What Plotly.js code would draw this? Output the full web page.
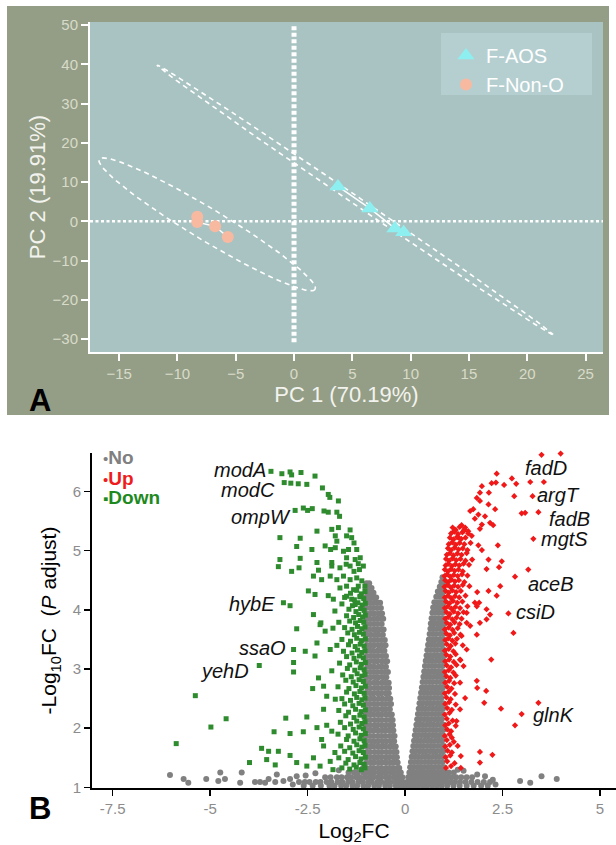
<!DOCTYPE html>
<html><head><meta charset="utf-8">
<script src="https://cdn.plot.ly/plotly-3.0.1.min.js"></script>
<style>html,body{margin:0;padding:0;background:#fff}#chart{width:616px;height:845px}</style>
</head><body><div id="chart"></div>
<script>
// ---------- Panel A (PCA) ----------
const aosX = [3.77, 6.5, 8.65, 9.4];
const aosY = [8.9, 3.3, -1.8, -2.8];
const nonX = [-8.3, -8.3, -6.77, -5.68];
const nonY = [1.2, -0.2, -1.28, -4.0];
// confidence ellipses: centre, half-major vector, half-minor vector (data units)
const ellipseCenter = [[5.23, 5.48], [-7.45, -0.77]];
const ellipseMajor = [[16.97, -34.3], [9.26, -16.58]];
const ellipseMinor = [[-0.197, -0.865], [-0.708, -3.50]];
const pcaTicksX = [-15, -10, -5, 0, 5, 10, 15, 20, 25];
const pcaTicksY = [-30, -20, -10, 0, 10, 20, 30, 40, 50];

// ---------- Panel B (volcano) ----------
const volTicksX = [-7.5, -5, -2.5, 0, 2.5, 5];
const volTickText = ['-7.5', '-5', '-2.5', '0', '2.5', '5'];
const volTicksY = [1, 2, 3, 4, 5, 6];

// grey "No" points, dense arms given as rows [y, [x...]]
const noRows = [
 [4.45,[-0.99,-0.92]],[4.37,[-1.01,-0.93,-0.86]],[4.29,[-0.98,-0.90,-0.81]],
 [4.21,[-1.00,-0.91,-0.83,-0.74]],[4.12,[-0.97,-0.89,-0.79,-0.71,-0.64]],
 [4.03,[-1.01,-0.90,-0.82,-0.72,-0.62]],[3.94,[-0.98,-0.87,-0.79,-0.68,-0.59]],
 [3.85,[-1.00,-0.91,-0.80,-0.71,-0.62,-0.56]],[3.76,[-0.97,-0.88,-0.79,-0.70,-0.60]],
 [3.67,[-1.01,-0.92,-0.81,-0.72,-0.63,-0.55]],[3.58,[-0.98,-0.88,-0.77,-0.68,-0.57]],
 [3.49,[-1.00,-0.89,-0.80,-0.71,-0.61,-0.52]],[3.40,[-0.97,-0.88,-0.79,-0.68,-0.59,-0.50]],
 [3.31,[-1.01,-0.91,-0.82,-0.71,-0.62,-0.53]],[3.22,[-0.98,-0.87,-0.78,-0.69,-0.58,-0.49]],
 [3.13,[-1.00,-0.91,-0.80,-0.71,-0.60,-0.51,-0.46]],[3.04,[-0.97,-0.88,-0.79,-0.68,-0.59,-0.49]],
 [2.95,[-1.01,-0.90,-0.81,-0.72,-0.61,-0.52,-0.44]],[2.86,[-0.98,-0.88,-0.77,-0.68,-0.57,-0.48]],
 [2.77,[-1.00,-0.91,-0.80,-0.71,-0.60,-0.51,-0.42]],[2.68,[-0.97,-0.89,-0.78,-0.69,-0.59,-0.49,-0.41]],
 [2.59,[-1.01,-0.90,-0.81,-0.70,-0.61,-0.50,-0.42]],[2.50,[-0.98,-0.88,-0.79,-0.68,-0.58,-0.47,-0.38]],
 [2.41,[-1.00,-0.91,-0.80,-0.71,-0.60,-0.51,-0.41,-0.36]],[2.32,[-0.97,-0.88,-0.78,-0.69,-0.58,-0.49,-0.39]],
 [2.23,[-1.01,-0.90,-0.81,-0.70,-0.61,-0.50,-0.41,-0.34]],[2.14,[-0.98,-0.89,-0.78,-0.68,-0.59,-0.48,-0.38,-0.32]],
 [2.05,[-1.00,-0.90,-0.79,-0.71,-0.60,-0.50,-0.40,-0.31]],[1.96,[-0.97,-0.88,-0.80,-0.69,-0.58,-0.49,-0.39,-0.30]],
 [1.87,[-1.01,-0.91,-0.81,-0.70,-0.61,-0.51,-0.40,-0.32,-0.27]],[1.78,[-0.98,-0.87,-0.78,-0.69,-0.58,-0.48,-0.37,-0.28]],
 [1.69,[-1.00,-0.90,-0.81,-0.70,-0.60,-0.51,-0.40,-0.31,-0.24]],[1.60,[-0.97,-0.89,-0.78,-0.68,-0.59,-0.48,-0.38,-0.29,-0.22]],
 [1.51,[-1.01,-0.90,-0.80,-0.71,-0.61,-0.50,-0.41,-0.30,-0.21]],[1.42,[-0.99,-0.88,-0.79,-0.68,-0.58,-0.49,-0.38,-0.28,-0.19]],
 [1.33,[-1.08,-1.00,-0.89,-0.81,-0.70,-0.61,-0.49,-0.40,-0.31,-0.20,-0.15]],
 [1.25,[-1.45,-1.31,-1.21,-1.07,-0.98,-0.87,-0.79,-0.67,-0.58,-0.49,-0.37,-0.29,-0.18,-0.11]],
 [1.17,[-2.05,-1.91,-1.75,-1.63,-1.49,-1.38,-1.25,-1.15,-1.02,-0.90,-0.81,-0.69,-0.61,-0.49,-0.41,-0.29,-0.21,-0.12,-0.07]],
 [1.09,[-2.72,-2.57,-2.45,-2.29,-2.17,-2.01,-1.89,-1.73,-1.61,-1.46,-1.35,-1.20,-1.09,-0.95,-0.85,-0.71,-0.61,-0.47,-0.37,-0.24,-0.16,-0.06]],
 [1.03,[-2.60,-2.37,-2.16,-1.94,-1.81,-1.64,-1.51,-1.35,-1.23,-1.07,-0.95,-0.79,-0.67,-0.51,-0.39,-0.24,-0.13,-0.03]],
 [4.55,[0.96]],[4.47,[0.93,1.00]],[4.39,[0.89,0.97]],[4.31,[0.84,0.92,0.99]],
 [4.22,[0.80,0.89,0.96]],[4.13,[0.75,0.84,0.92,1.00]],[4.04,[0.72,0.80,0.90,0.98]],
 [3.95,[0.70,0.79,0.87,0.97]],[3.86,[0.68,0.76,0.86,0.95]],[3.77,[0.66,0.75,0.83,0.93,1.00]],
 [3.68,[0.65,0.73,0.83,0.91,0.99]],[3.59,[0.63,0.72,0.80,0.90,0.98]],[3.50,[0.61,0.69,0.79,0.88,0.97]],
 [3.41,[0.59,0.68,0.76,0.86,0.95]],[3.32,[0.57,0.66,0.75,0.83,0.93,1.00]],[3.23,[0.55,0.63,0.73,0.82,0.90,0.99]],
 [3.14,[0.53,0.62,0.70,0.80,0.89,0.98]],[3.05,[0.51,0.60,0.69,0.77,0.87,0.96]],[2.96,[0.49,0.57,0.67,0.76,0.84,0.94]],
 [2.87,[0.47,0.56,0.64,0.74,0.83,0.91,0.99]],[2.78,[0.45,0.54,0.63,0.71,0.81,0.90,0.98]],
 [2.69,[0.43,0.51,0.61,0.70,0.78,0.88,0.97]],[2.60,[0.41,0.50,0.58,0.68,0.77,0.85,0.95]],
 [2.51,[0.39,0.48,0.57,0.65,0.75,0.84,0.93]],[2.42,[0.37,0.45,0.55,0.64,0.72,0.82,0.91,0.98]],
 [2.33,[0.35,0.44,0.52,0.62,0.71,0.80,0.89,0.97]],[2.24,[0.33,0.42,0.51,0.59,0.69,0.78,0.86,0.95]],
 [2.15,[0.31,0.39,0.49,0.58,0.66,0.76,0.85,0.94]],[2.06,[0.29,0.38,0.46,0.56,0.65,0.73,0.83,0.92,0.99]],
 [1.97,[0.27,0.36,0.45,0.53,0.63,0.72,0.80,0.90,0.98]],[1.88,[0.25,0.33,0.43,0.52,0.60,0.70,0.79,0.87,0.96]],
 [1.79,[0.23,0.32,0.40,0.50,0.59,0.67,0.77,0.86,0.95]],[1.70,[0.21,0.30,0.39,0.47,0.57,0.66,0.74,0.84,0.93,0.99]],
 [1.61,[0.19,0.27,0.37,0.46,0.54,0.64,0.73,0.81,0.91,0.98]],[1.52,[0.17,0.26,0.34,0.44,0.53,0.61,0.71,0.80,0.88,0.97]],
 [1.43,[0.15,0.24,0.33,0.41,0.51,0.60,0.68,0.78,0.87,0.96]],[1.34,[0.13,0.21,0.31,0.40,0.48,0.58,0.67,0.75,0.85,0.94,1.00]],
 [1.25,[0.11,0.20,0.28,0.38,0.47,0.55,0.65,0.74,0.82,0.92,1.01,1.12,1.25]],
 [1.17,[0.08,0.17,0.26,0.34,0.44,0.53,0.61,0.71,0.80,0.88,0.98,1.08,1.19,1.31,1.44,1.58,1.72]],
 [1.09,[0.05,0.14,0.23,0.31,0.41,0.50,0.58,0.68,0.77,0.85,0.95,1.05,1.16,1.28,1.41,1.55,1.70,1.86,2.02,2.18]],
 [1.03,[0.03,0.12,0.22,0.34,0.46,0.57,0.70,0.82,0.94,1.08,1.24,1.40,1.58,1.76,1.95,2.12]]
];
const noExtra = [[-6.03,1.21],[-5.68,1.14],[-5.56,1.08],[-5.10,1.14],[-4.74,1.25],[-4.79,1.11],[-4.62,1.14],
 [-4.19,1.25],[-4.23,1.08],[-3.85,1.09],[-3.72,1.09],[-3.59,1.08],[-3.50,1.14],[-3.29,1.22],[-3.33,1.09],
 [-3.12,1.11],[-2.95,1.14],[-2.78,1.19],[-2.88,1.05],[2.25,1.13],[2.32,1.05],[2.95,1.11],[3.21,1.08],
 [3.50,1.19],[3.89,1.14],[1.85,1.22],[2.05,1.19],[1.50,1.28],[1.35,1.30],[-1.70,1.29],[-2.30,1.24],[-2.55,1.20]];

const upPts = [[3.50,6.62],[3.99,6.64],[2.35,6.30],[2.22,6.14],[2.33,6.15],[2.54,6.11],[2.74,6.22],[2.85,6.13],
 [3.21,6.16],[3.56,6.16],[1.97,6.09],[1.92,5.98],[2.15,5.98],[2.80,5.92],[3.27,5.92],[1.84,5.89],[1.92,5.84],
 [2.14,5.78],[2.31,5.70],[1.75,5.70],[1.67,5.67],[1.88,5.61],[2.05,5.58],[1.79,5.54],[2.99,5.63],[3.08,5.64],
 [3.42,5.65],[1.97,5.44],[2.18,5.47],[2.26,5.43],[1.92,5.37],[1.45,5.43],[1.54,5.39],[1.26,5.33],[1.50,5.33],
 [1.62,5.33],[1.71,5.25],[1.37,5.22],[3.29,5.20],[2.38,5.09],[1.88,5.09],[1.97,5.01],[2.48,4.82],[2.14,4.85],
 [2.09,4.69],[2.41,4.72],[3.16,4.68],[2.82,4.56],[2.44,4.40],[2.14,4.32],[2.35,4.24],[1.85,4.30],[1.90,4.12],
 [2.65,3.94],[2.78,3.61],[2.21,3.16],[1.84,2.80],[1.85,2.68],[2.08,2.63],[1.54,2.51],[2.03,2.43],[2.46,2.33],
 [2.99,2.24],[3.42,2.43],[2.82,2.05],[1.92,1.60],[2.24,1.55],[1.92,1.42],[1.43,1.33],[1.43,1.53],[1.35,1.70],
 [1.20,1.84],[1.32,2.12],[1.41,2.32],[1.41,2.77],[1.50,3.05],[1.41,3.16],[1.58,3.33],[1.45,3.56],[1.84,3.58],
 [1.67,3.73],[1.92,3.78],[2.09,3.84],[2.18,3.92],[1.58,3.95],[1.84,4.06],[2.09,4.01],[1.79,4.12],
 [1.22,5.39],[1.30,5.35],[1.40,5.40],[1.52,5.36],[1.18,5.29],[1.27,5.32],[1.36,5.28],[1.47,5.31],[1.62,5.29],
 [1.15,5.22],[1.24,5.19],[1.33,5.23],[1.44,5.20],[1.55,5.22],[1.12,5.11],[1.21,5.14],[1.30,5.10],[1.40,5.13],
 [1.52,5.11],[1.68,5.13],[1.10,5.04],[1.18,5.01],[1.27,5.05],[1.37,5.02],[1.48,5.04],[1.60,5.01],
 [1.07,4.93],[1.15,4.96],[1.24,4.92],[1.34,4.95],[1.45,4.93],[1.58,4.96],[1.05,4.86],[1.13,4.83],[1.22,4.87],
 [1.31,4.84],[1.42,4.86],[1.55,4.83],[1.72,4.85],[1.04,4.75],[1.11,4.78],[1.20,4.74],[1.29,4.77],[1.39,4.75],
 [1.50,4.78],[1.64,4.76],[1.02,4.68],[1.10,4.65],[1.18,4.69],[1.27,4.66],[1.37,4.68],[1.48,4.65],
 [1.01,4.57],[1.08,4.60],[1.16,4.56],[1.25,4.59],[1.35,4.57],[1.46,4.60],[1.60,4.58],[1.03,4.50],[1.11,4.47],
 [1.19,4.51],[1.28,4.48],[1.38,4.50],[1.52,4.47],[1.01,4.39],[1.09,4.42],[1.17,4.38],[1.26,4.41],[1.36,4.39],
 [1.48,4.42],[1.65,4.40],[1.04,4.32],[1.12,4.29],[1.21,4.33],[1.31,4.30],[1.43,4.32],[1.02,4.21],[1.10,4.24],
 [1.18,4.20],[1.28,4.23],[1.39,4.21],[1.55,4.24],[1.05,4.14],[1.14,4.11],[1.23,4.15],[1.34,4.12],[1.47,4.14],
 [1.02,4.03],[1.10,4.06],[1.19,4.02],[1.29,4.05],[1.41,4.03],[1.60,4.06],[1.06,3.96],[1.15,3.93],[1.25,3.97],
 [1.36,3.94],[1.50,3.96],[1.03,3.85],[1.11,3.88],[1.21,3.84],[1.32,3.87],[1.45,3.85],[1.07,3.78],[1.16,3.75],
 [1.27,3.79],[1.40,3.76],[1.58,3.78],[1.02,3.67],[1.12,3.70],[1.22,3.66],[1.35,3.69],[1.06,3.60],[1.15,3.57],
 [1.26,3.61],[1.42,3.58],[1.03,3.49],[1.11,3.52],[1.21,3.48],[1.33,3.51],[1.07,3.42],[1.17,3.39],[1.29,3.43],
 [1.48,3.40],[1.02,3.31],[1.12,3.34],[1.24,3.30],[1.06,3.24],[1.16,3.21],[1.30,3.25],[1.03,3.13],[1.13,3.16],
 [1.25,3.12],[1.42,3.15],[1.07,3.06],[1.18,3.03],[1.32,3.07],[1.02,2.95],[1.12,2.98],[1.24,2.94],[1.06,2.88],
 [1.16,2.85],[1.30,2.89],[1.03,2.77],[1.13,2.80],[1.26,2.76],[1.08,2.70],[1.19,2.67],[1.02,2.59],[1.12,2.62],
 [1.28,2.58],[1.06,2.52],[1.17,2.49],[1.03,2.41],[1.13,2.44],[1.30,2.40],[1.08,2.34],[1.20,2.31],[1.02,2.23],
 [1.14,2.26],[1.07,2.16],[1.22,2.13],[1.03,2.05],[1.12,2.08],[1.30,2.04],[1.08,1.98],[1.18,1.95],[1.02,1.87],
 [1.14,1.90],[1.07,1.80],[1.25,1.77],[1.03,1.69],[1.15,1.72],[1.09,1.62],[1.20,1.59],[1.04,1.51],[1.16,1.54],
 [1.08,1.44],[1.27,1.41],[1.05,1.33],[1.18,1.36]];

const downPts = [[-3.44,6.34],[-3.16,6.30],[-2.95,6.33],[-2.91,6.28],[-2.67,6.32],[-2.31,6.26],[-3.10,6.15],
 [-2.93,6.14],[-2.74,6.13],[-2.52,6.12],[-2.12,6.06],[-1.97,5.95],[-1.93,5.90],[-1.71,5.84],[-2.82,5.68],
 [-2.61,5.72],[-2.50,5.68],[-2.38,5.71],[-2.08,5.67],[-1.97,5.65],[-1.75,5.65],[-1.68,5.58],[-3.21,5.22],
 [-2.69,5.21],[-2.26,5.33],[-1.88,5.36],[-1.71,5.39],[-1.41,5.35],[-1.50,5.25],[-1.79,5.25],[-1.75,5.16],
 [-1.37,5.22],[-1.31,5.13],[-2.78,5.07],[-2.39,5.02],[-2.05,5.08],[-1.91,5.02],[-1.79,5.05],[-1.58,4.99],
 [-1.45,5.02],[-1.24,5.02],[-3.21,4.85],[-2.69,4.87],[-2.26,4.80],[-1.88,4.80],[-1.50,4.88],[-1.28,4.85],
 [-1.20,4.78],[-1.15,4.88],[-1.51,4.77],[-3.25,4.73],[-2.91,4.65],[-2.72,4.71],[-2.22,4.67],[-1.88,4.74],
 [-1.67,4.71],[-1.41,4.74],[-1.17,4.68],[-1.07,4.74],[-1.31,4.65],[-2.35,4.57],[-2.14,4.51],[-1.92,4.57],
 [-1.75,4.51],[-1.58,4.57],[-1.41,4.51],[-1.24,4.54],[-1.11,4.49],[-1.03,4.40],[-1.50,4.40],[-1.67,4.37],
 [-1.32,4.34],[-1.20,4.40],[-3.12,4.12],[-2.95,4.07],[-2.48,4.32],[-2.31,4.26],[-1.97,4.24],[-1.84,4.18],
 [-1.50,4.23],[-1.37,4.18],[-1.15,4.23],[-1.28,4.09],[-2.78,3.68],[-2.86,3.33],[-2.56,3.30],[-2.31,3.22],
 [-2.86,3.11],[-2.86,2.95],[-3.74,3.06],[-2.35,3.92],[-2.18,3.75],[-5.38,2.55],[-4.59,2.16],[-4.98,2.02],
 [-5.87,1.74],[-3.06,2.17],[-2.52,2.19],[-3.36,1.94],[-2.95,1.91],[-2.61,1.94],[-3.99,1.42],[-3.68,1.66],
 [-3.50,1.61],[-3.25,1.61],[-3.55,1.47],[-3.33,1.38],[-2.95,1.54],[-2.78,1.42],[-2.52,1.36],[-2.35,1.50],
 [-2.37,2.67],[-2.14,1.81],[-2.09,1.70],[-1.92,1.44],[-2.18,1.36],[-2.26,2.01],[-2.01,2.05],[-1.88,1.95],
 [-2.16,3.78],[-2.05,3.64],[-2.26,3.44],[-1.92,3.33],[-2.22,2.85],[-1.88,2.97],[-2.01,2.54],[-2.09,2.32],
 [-1.79,2.49],[-2.09,2.71],
 [-1.03,4.31],[-1.12,4.27],[-1.24,4.33],[-1.40,4.28],[-1.06,4.19],[-1.16,4.22],[-1.30,4.17],[-1.55,4.21],
 [-1.02,4.11],[-1.10,4.08],[-1.21,4.12],[-1.35,4.07],[-1.62,4.10],[-1.05,3.99],[-1.14,4.02],[-1.26,3.97],
 [-1.44,4.01],[-1.80,3.98],[-1.02,3.91],[-1.09,3.88],[-1.19,3.92],[-1.32,3.87],[-1.50,3.90],[-1.06,3.79],
 [-1.15,3.82],[-1.27,3.78],[-1.42,3.81],[-1.70,3.79],[-1.03,3.71],[-1.11,3.68],[-1.22,3.72],[-1.36,3.67],
 [-1.55,3.70],[-1.85,3.69],[-1.07,3.59],[-1.17,3.62],[-1.30,3.58],[-1.47,3.61],[-1.02,3.51],[-1.12,3.48],
 [-1.24,3.52],[-1.40,3.47],[-1.62,3.50],[-1.05,3.39],[-1.15,3.42],[-1.28,3.38],[-1.45,3.41],[-1.75,3.40],
 [-1.03,3.31],[-1.11,3.28],[-1.22,3.32],[-1.36,3.27],[-1.58,3.30],[-1.07,3.19],[-1.17,3.22],[-1.31,3.18],
 [-1.50,3.21],[-1.02,3.11],[-1.12,3.08],[-1.25,3.12],[-1.42,3.07],[-1.68,3.10],[-1.05,2.99],[-1.15,3.02],
 [-1.29,2.98],[-1.48,3.01],[-1.03,2.91],[-1.11,2.88],[-1.23,2.92],[-1.38,2.87],[-1.60,2.90],[-1.07,2.79],
 [-1.18,2.82],[-1.33,2.78],[-1.52,2.81],[-1.02,2.71],[-1.12,2.68],[-1.26,2.72],[-1.44,2.67],[-1.72,2.70],
 [-1.05,2.59],[-1.16,2.62],[-1.30,2.58],[-1.50,2.61],[-1.03,2.51],[-1.11,2.48],[-1.24,2.52],[-1.40,2.47],
 [-1.62,2.50],[-1.07,2.39],[-1.18,2.42],[-1.34,2.38],[-1.55,2.41],[-1.02,2.31],[-1.13,2.28],[-1.27,2.32],
 [-1.45,2.27],[-1.70,2.30],[-1.05,2.19],[-1.16,2.22],[-1.31,2.18],[-1.52,2.21],[-1.03,2.11],[-1.11,2.08],
 [-1.24,2.12],[-1.40,2.07],[-1.66,2.10],[-1.07,1.99],[-1.18,2.02],[-1.33,1.98],[-1.55,2.01],[-1.02,1.91],
 [-1.13,1.88],[-1.27,1.92],[-1.46,1.87],[-1.72,1.90],[-1.05,1.79],[-1.16,1.82],[-1.31,1.78],[-1.50,1.81],
 [-1.03,1.71],[-1.11,1.68],[-1.24,1.72],[-1.42,1.67],[-1.65,1.70],[-1.07,1.59],[-1.18,1.62],[-1.34,1.58],
 [-1.55,1.61],[-1.80,1.59],[-1.02,1.51],[-1.13,1.48],[-1.27,1.52],[-1.46,1.47],[-1.70,1.50],[-1.05,1.39],
 [-1.16,1.42],[-1.31,1.38],[-1.52,1.41],[-1.03,1.33],[-1.12,1.30],[-1.25,1.34],[-1.42,1.31],[-1.62,1.33],[-1.85,1.30]];

// gene labels: name, x, y, side
const geneNames = ['modA','modC','ompW','hybE','ssaO','yehD','fadD','argT','fadB','mgtS','aceB','csiD','glnK'];
const geneX = [-3.52,-3.28,-2.88,-3.28,-3.01,-3.94,3.02,3.32,3.64,3.44,3.10,2.79,3.23];
const geneY = [6.37,6.02,5.57,4.10,3.35,2.97,6.39,5.94,5.54,5.19,4.43,3.96,2.22];
const geneSide = ['right','right','right','right','right','right','left','left','left','left','left','left','left'];

// ---------- build ----------
const FONT = 'Arial, "Liberation Sans", sans-serif';
function rowsToXY(rows){const x=[],y=[];rows.forEach(r=>r[1].forEach(v=>{x.push(v);y.push(r[0]);}));return {x,y};}
function ptsToXY(p){return {x:p.map(a=>a[0]), y:p.map(a=>a[1])};}
function ellipse(i){
  const x=[],y=[];
  for(let k=0;k<=160;k++){const t=2*Math.PI*k/160,c=Math.cos(t),s=Math.sin(t);
    x.push(ellipseCenter[i][0]+ellipseMajor[i][0]*c+ellipseMinor[i][0]*s);
    y.push(ellipseCenter[i][1]+ellipseMajor[i][1]*c+ellipseMinor[i][1]*s);}
  return {x,y};
}
const noA = rowsToXY(noRows), noB = ptsToXY(noExtra);
const noXs = noA.x.concat(noB.x), noYs = noA.y.concat(noB.y);
const up = ptsToXY(upPts), down = ptsToXY(downPts);
const e0 = ellipse(0), e1 = ellipse(1);

const traces = [
  {x:e0.x,y:e0.y,xaxis:'x',yaxis:'y',mode:'lines',line:{color:'#ffffff',width:1.6,dash:'5px,4px'},showlegend:false,hoverinfo:'skip'},
  {x:e1.x,y:e1.y,xaxis:'x',yaxis:'y',mode:'lines',line:{color:'#ffffff',width:1.6,dash:'5px,4px'},showlegend:false,hoverinfo:'skip'},
  {x:aosX,y:aosY,xaxis:'x',yaxis:'y',mode:'lines',line:{color:'#ffffff',width:1.5},showlegend:false,hoverinfo:'skip'},
  {x:nonX,y:nonY,xaxis:'x',yaxis:'y',mode:'lines',line:{color:'#ffffff',width:1.5},showlegend:false,hoverinfo:'skip'},
  {x:aosX,y:aosY,xaxis:'x',yaxis:'y',mode:'markers',name:'F-AOS',legend:'legend',
   marker:{symbol:'triangle-up',size:15,color:'#8eeff0'}},
  {x:nonX,y:nonY,xaxis:'x',yaxis:'y',mode:'markers',name:'F-Non-O',legend:'legend',
   marker:{symbol:'circle',size:12,color:'#f8b9a1'}},
  {x:noXs,y:noYs,xaxis:'x2',yaxis:'y2',mode:'markers',name:'No',showlegend:false,cliponaxis:false,
   marker:{symbol:'circle',size:6,color:'#808080'}},
  {x:up.x,y:up.y,xaxis:'x2',yaxis:'y2',mode:'markers',name:'Up',showlegend:false,cliponaxis:false,
   marker:{symbol:'diamond',size:4.8,color:'#f01818'}},
  {x:down.x,y:down.y,xaxis:'x2',yaxis:'y2',mode:'markers',name:'Down',showlegend:false,cliponaxis:false,
   marker:{symbol:'square',size:5,color:'#2e8b2e'}}
];

const W=616,H=845;
const px = v=>v/W, py = v=>1-v/H;

const annotations = [
  {xref:'paper',yref:'paper',x:px(27),y:py(400),text:'<b>A</b>',showarrow:false,font:{size:31,color:'#000',family:FONT}},
  {xref:'paper',yref:'paper',x:px(27),y:py(828),text:'<b>B</b>',showarrow:false,font:{size:31,color:'#000',family:FONT}},
  {xref:'paper',yref:'paper',x:px(101),y:py(457),xanchor:'left',text:'<span style="font-size:15px">•</span><b>No</b>',showarrow:false,font:{size:19,color:'#808080',family:FONT}},
  {xref:'paper',yref:'paper',x:px(101),y:py(478),xanchor:'left',text:'<span style="font-size:15px">•</span><b>Up</b>',showarrow:false,font:{size:19,color:'#ee1c1c',family:FONT}},
  {xref:'paper',yref:'paper',x:px(101),y:py(497),xanchor:'left',text:'<span style="font-size:15px">▪</span><b>Down</b>',showarrow:false,font:{size:19,color:'#1e8a1e',family:FONT}}
];
geneNames.forEach((g,i)=>annotations.push({xref:'x2',yref:'y2',x:geneX[i],y:geneY[i],xanchor:geneSide[i],yanchor:'middle',
  text:'<i>'+g+'</i>',showarrow:false,font:{size:20,color:'#111',family:FONT}}));

const layout = {
  width:W,height:H,margin:{l:0,r:0,t:0,b:0},
  paper_bgcolor:'#ffffff',plot_bgcolor:'rgba(0,0,0,0)',
  font:{family:FONT},
  legend:{x:px(446),y:py(36),xanchor:'left',yanchor:'top',bgcolor:'rgba(0,0,0,0)',borderwidth:0,
    font:{size:20,color:'#ffffff',family:FONT},itemsizing:'trace',tracegroupgap:0},
  xaxis:{domain:[px(90),px(603)],anchor:'y',range:[-17.5,26.5],tickvals:pcaTicksX,showgrid:false,zeroline:false,
    showline:true,linecolor:'#ffffff',linewidth:2,ticks:'outside',ticklen:7,tickwidth:2,tickcolor:'#ffffff',
    tickfont:{size:15,color:'#d8dbc9',family:FONT},
    title:{text:'PC 1 (70.19%)',font:{size:22,color:'#f2f3ee',family:FONT},standoff:6}},
  yaxis:{domain:[py(352),py(22)],anchor:'x',range:[-33.3,50.8],tickvals:pcaTicksY,showgrid:false,zeroline:false,
    showline:true,linecolor:'#ffffff',linewidth:2,ticks:'outside',ticklen:7,tickwidth:2,tickcolor:'#ffffff',
    tickfont:{size:15,color:'#d8dbc9',family:FONT},
    title:{text:'PC 2 (19.91%)',font:{size:22,color:'#f2f3ee',family:FONT},standoff:1}},
  xaxis2:{domain:[px(92),1],anchor:'y2',range:[-8.03,5.41],tickvals:volTicksX,ticktext:volTickText,showgrid:false,zeroline:false,
    showline:true,linecolor:'#000',linewidth:2,ticks:'outside',ticklen:6,tickwidth:1.5,tickcolor:'#000',
    tickfont:{size:15,color:'#8c8c8c',family:FONT},
    title:{text:'Log<sub>2</sub>FC',font:{size:21,color:'#000',family:FONT},standoff:10}},
  yaxis2:{domain:[py(788),py(453)],anchor:'x2',range:[0.99,6.65],tickvals:volTicksY,showgrid:false,zeroline:false,
    showline:true,linecolor:'#000',linewidth:2,ticks:'outside',ticklen:6,tickwidth:1.5,tickcolor:'#000',
    tickfont:{size:15,color:'#8c8c8c',family:FONT},
    title:{text:'-Log<sub>10</sub>FC  (<i>P</i> adjust)',font:{size:21,color:'#000',family:FONT},standoff:10}},
  shapes:[
    {type:'rect',xref:'paper',yref:'paper',x0:px(7),x1:px(609),y0:py(415),y1:py(6),fillcolor:'#949e86',line:{width:0},layer:'below'},
    {type:'rect',xref:'x domain',yref:'y domain',x0:0,x1:1,y0:0,y1:1,fillcolor:'#a9c3c3',line:{width:0},layer:'below'},
    {type:'line',xref:'x',yref:'y',x0:0,x1:0,y0:-30.8,y1:50,line:{color:'#ffffff',width:5,dash:'4px,2.5px'},layer:'below'},
    {type:'line',xref:'x domain',yref:'y',x0:0,x1:1,y0:0,y1:0,line:{color:'#ffffff',width:2.5,dash:'3px,2.5px'},layer:'below'},
    {type:'rect',xref:'paper',yref:'paper',x0:px(441),x1:px(592),y0:py(95),y1:py(33),fillcolor:'#b5cfd1',line:{width:0},layer:'above'}
  ],
  annotations:annotations
};

Plotly.newPlot('chart',traces,layout,{displayModeBar:false,staticPlot:true});
</script>
</body></html>
